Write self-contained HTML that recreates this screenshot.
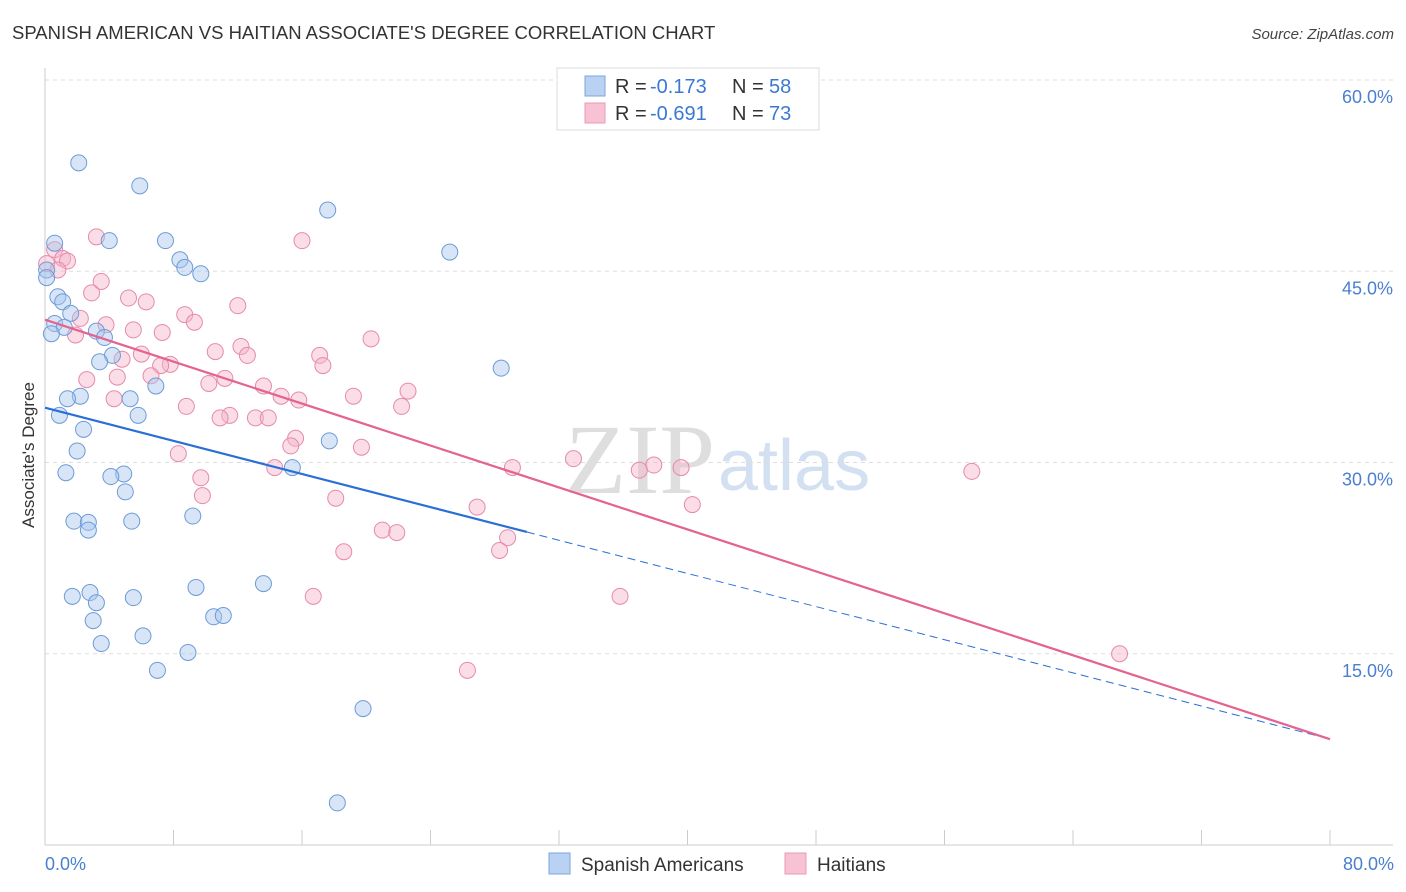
<!DOCTYPE html>
<html><head><meta charset="utf-8"><style>
body{margin:0;background:#fff;font-family:"Liberation Sans",sans-serif;}
svg{display:block}
</style></head><body>
<svg id="chart" width="1406" height="892" viewBox="0 0 1406 892" xmlns="http://www.w3.org/2000/svg">
<text x="12" y="39" font-size="18.5" fill="#333">SPANISH AMERICAN VS HAITIAN ASSOCIATE'S DEGREE CORRELATION CHART</text>
<text x="1394" y="39" font-size="15" fill="#444" font-style="italic" text-anchor="end">Source: ZipAtlas.com</text>
<text x="715" y="493" font-size="100" fill="#dedede" text-anchor="end" font-family="Liberation Serif,serif">ZIP</text>
<text x="718" y="490" font-size="72" fill="#d3e0f2">atlas</text>
<g id="grid"></g>
<g id="axes"></g>
<g id="marks"></g>
<text transform="translate(34,455) rotate(-90)" font-size="17" fill="#333" text-anchor="middle">Associate's Degree</text>
<text x="45" y="870" font-size="18" fill="#4a7fd0">0.0%</text>
<text x="1394" y="870" font-size="18" fill="#4a7fd0" text-anchor="end">80.0%</text>
<g>
<rect x="557" y="68" width="262" height="62" fill="#fff" stroke="#ddd"/>
<rect x="585" y="76" width="20" height="20" fill="#b9d1f2" stroke="#7ea6dc"/>
<rect x="585" y="103" width="20" height="20" fill="#f7c3d4" stroke="#e99ab5"/>
<text x="615" y="93" font-size="20" fill="#333">R =</text>
<text x="650" y="93" font-size="20" fill="#3b78d4">-0.173</text>
<text x="732" y="93" font-size="20" fill="#333">N =</text>
<text x="769" y="93" font-size="20" fill="#3b78d4">58</text>
<text x="615" y="120" font-size="20" fill="#333">R =</text>
<text x="650" y="120" font-size="20" fill="#3b78d4">-0.691</text>
<text x="732" y="120" font-size="20" fill="#333">N =</text>
<text x="769" y="120" font-size="20" fill="#3b78d4">73</text>
</g>
<g>
<rect x="549" y="853" width="21" height="21" fill="#b9d1f2" stroke="#7ea6dc"/>
<text x="581" y="871" font-size="19" fill="#333">Spanish Americans</text>
<rect x="785" y="853" width="21" height="21" fill="#f7c3d4" stroke="#e99ab5"/>
<text x="817" y="871" font-size="19" fill="#333">Haitians</text>
</g>
</svg>
<script>
const blueX=[2.1,5.9,17.6,0.6,4.0,7.5,25.2,8.4,8.7,9.7,0.1,0.1,0.8,1.1,1.6,0.6,1.2,3.2,0.4,3.7,4.2,3.4,28.4,6.9,2.2,1.4,5.3,5.8,0.9,2.4,17.7,2.0,1.3,15.4,4.9,4.1,5.0,9.2,1.8,5.4,2.7,2.7,9.4,13.6,2.8,1.7,5.5,3.2,3.0,10.5,11.1,6.1,3.5,8.9,7.0,19.8,18.2];
const blueY=[53.5,51.7,49.8,47.2,47.4,47.4,46.5,45.9,45.3,44.8,45.1,44.5,43.0,42.6,41.7,40.9,40.6,40.3,40.1,39.8,38.4,37.9,37.4,36.0,35.2,35.0,35.0,33.7,33.7,32.6,31.7,30.9,29.2,29.6,29.1,28.9,27.7,25.8,25.4,25.4,25.3,24.7,20.2,20.5,19.8,19.5,19.4,19.0,17.6,17.9,18.0,16.4,15.8,15.1,13.7,10.7,3.3];
const pinkX=[3.2,16.0,0.6,1.1,1.4,0.1,0.8,3.5,2.9,5.2,6.3,12.0,8.7,2.2,9.3,3.8,5.5,7.3,1.9,20.3,12.2,10.6,12.6,6.0,17.1,4.8,7.8,17.3,7.2,2.6,6.6,4.5,11.2,10.2,13.6,22.6,19.2,14.7,15.8,4.3,8.8,22.2,11.5,10.9,13.1,13.9,15.6,15.3,19.7,8.3,32.9,14.3,29.1,37.9,39.6,37.0,57.7,9.7,9.8,18.1,26.9,40.3,21.0,21.9,28.8,18.6,28.3,16.7,35.8,26.3,66.9];
const pinkY=[47.7,47.4,46.7,46.0,45.8,45.6,45.1,44.2,43.3,42.9,42.6,42.3,41.6,41.3,41.0,40.8,40.4,40.2,40.0,39.7,39.1,38.7,38.4,38.5,38.4,38.1,37.7,37.6,37.6,36.5,36.8,36.7,36.6,36.2,36.0,35.6,35.2,35.2,34.9,35.0,34.4,34.4,33.7,33.5,33.5,33.5,31.9,31.3,31.2,30.7,30.3,29.6,29.6,29.8,29.6,29.4,29.3,28.8,27.4,27.2,26.5,26.7,24.7,24.5,24.1,23.0,23.1,19.5,19.5,13.7,15.0];
const yTicks=[15,30,45,60];
const yTickLabels=["15.0%","30.0%","45.0%","60.0%"];
const blueLine=[34.3,8.3];   // fitted values at x=0 and x=80
const pinkLine=[41.2,8.3];
const NS="http://www.w3.org/2000/svg";
const sx=v=>45+v*16.0625;
const sy=v=>845-v*12.75;
function mk(tag,attrs,parent){const e=document.createElementNS(NS,tag);for(const k in attrs)e.setAttribute(k,attrs[k]);parent.appendChild(e);return e;}
const grid=document.getElementById('grid'),axes=document.getElementById('axes'),marks=document.getElementById('marks');
yTicks.forEach((t,i)=>{
  const g=mk('line',{x1:45,x2:1393,y1:sy(t),y2:sy(t),stroke:'#ddd','stroke-dasharray':'4,4'},grid);
  
  
  const l=mk('text',{x:1393,y:sy(t)+23,'font-size':18,fill:'#4a7fd0','text-anchor':'end'},grid);
  l.textContent=yTickLabels[i];
  
  
});
const ax=mk('line',{x1:45,x2:45,y1:68,y2:845,stroke:'#ccc'},axes);


const bx=mk('line',{x1:45,x2:1393,y1:845,y2:845,stroke:'#ccc'},axes);


for(let v=0;v<=80;v+=8){
  const t=mk('line',{x1:sx(v),x2:sx(v),y1:830,y2:845,stroke:'#ccc'},axes);
  
  
}
function dots(X,Y,fill,stroke,name){
  X.forEach((x,i)=>{
    const c=mk('circle',{cx:sx(x),cy:sy(Y[i]),r:8,fill:fill,'fill-opacity':0.45,stroke:stroke,'stroke-width':1},marks);
    
    
  });
}
dots(pinkX,pinkY,'#f5b3c8','#e68aab','haitian-point');
dots(blueX,blueY,'#a6c5ee','#6d9bd6','spanish-american-point');
const bAt=x=>blueLine[0]+(blueLine[1]-blueLine[0])*x/80;
const pAt=x=>pinkLine[0]+(pinkLine[1]-pinkLine[0])*x/80;
const bs=mk('line',{x1:sx(0),y1:sy(bAt(0)),x2:sx(30),y2:sy(bAt(30)),stroke:'#2a6fd6','stroke-width':2.2},marks);


const bd=mk('line',{x1:sx(30),y1:sy(bAt(30)),x2:sx(80),y2:sy(bAt(80)),stroke:'#2a6fd6','stroke-width':1,'stroke-dasharray':'8,5'},marks);


const ps=mk('line',{x1:sx(0),y1:sy(pAt(0)),x2:sx(80),y2:sy(pAt(80)),stroke:'#e4638f','stroke-width':2.2},marks);


</script>
</body></html>
